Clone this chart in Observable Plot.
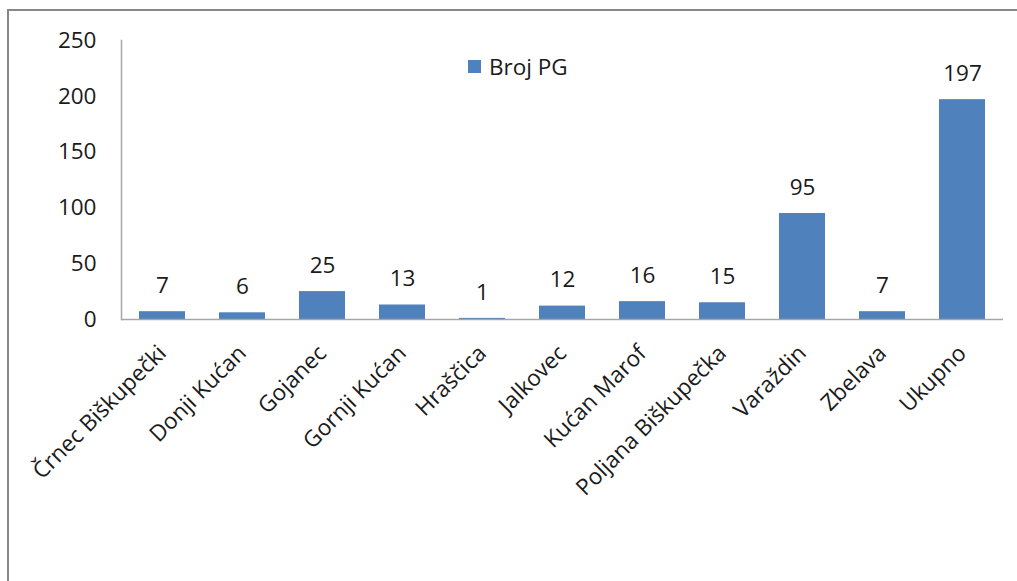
<!DOCTYPE html>
<html>
<head>
<meta charset="utf-8">
<script src="https://cdn.jsdelivr.net/npm/d3@7"></script>
<script src="https://cdn.jsdelivr.net/npm/@observablehq/plot@0.6"></script>
<style>
  html, body { margin: 0; padding: 0; background: #fff; overflow: hidden; }
  #wrap { position: relative; width: 1017px; height: 581px; }
  #border { position: absolute; left: 7px; top: 9px; width: 1100px; height: 700px; border: 2px solid #878787; box-sizing: border-box; }
  #chart { position: absolute; left: 0; top: 0; }
  #legend { position: absolute; left: 468px; top: 54px; height: 24px; font-family: "Open Sans", sans-serif; font-size: 22.5px; color: #1a1a1a; display: flex; align-items: center; }
  #legend .sw { width: 13px; height: 13px; background: #4F81BD; margin-right: 8px; }
</style>
</head>
<body>
<div id="wrap">
  <div id="border"></div>
  <div id="chart"></div>
  <div id="legend"><span class="sw"></span><span>Broj PG</span></div>
</div>
<script>
const categories = ["Črnec Biškupečki", "Donji Kućan", "Gojanec", "Gornji Kućan", "Hraščica", "Jalkovec", "Kućan Marof", "Poljana Biškupečka", "Varaždin", "Zbelava", "Ukupno"];
const values = [7, 6, 25, 13, 1, 12, 16, 15, 95, 7, 197];
const yTicks = [0, 50, 100, 150, 200, 250];

const data = categories.map((c, i) => ({cat: c, v: values[i]}));

const chart = Plot.plot({
  width: 1017,
  height: 581,
  marginLeft: 121,
  marginTop: 40,
  marginBottom: 262,
  marginRight: 14,
  style: {fontFamily: "'Open Sans', sans-serif", fontSize: "22.5px", color: "#1a1a1a", background: "transparent"},
  x: {domain: categories, paddingInner: 0.43, paddingOuter: 0.21, label: null},
  y: {domain: [0, 250], label: null},
  marks: [
    Plot.barY(data, {x: "cat", y: "v", fill: "#4F81BD"}),
    Plot.text(data, {x: "cat", y: "v", text: d => String(d.v), lineAnchor: "middle", dy: -26, fill: "#1a1a1a", fontSize: 22.5}),
    Plot.ruleY([0], {stroke: "#a6a6a6", strokeWidth: 1.5}),
    Plot.frame({anchor: "left", stroke: "#a6a6a6", strokeWidth: 1.5}),
    Plot.axisY({ticks: yTicks, tickSize: 0, tickPadding: 25, label: null, fontSize: 22.5}),
    Plot.axisX({tickSize: 0, tickPadding: 30, dx: 0, tickRotate: -45, label: null, fontSize: 22.5})
  ]
});
document.getElementById("chart").appendChild(chart);
</script>
</body>
</html>
